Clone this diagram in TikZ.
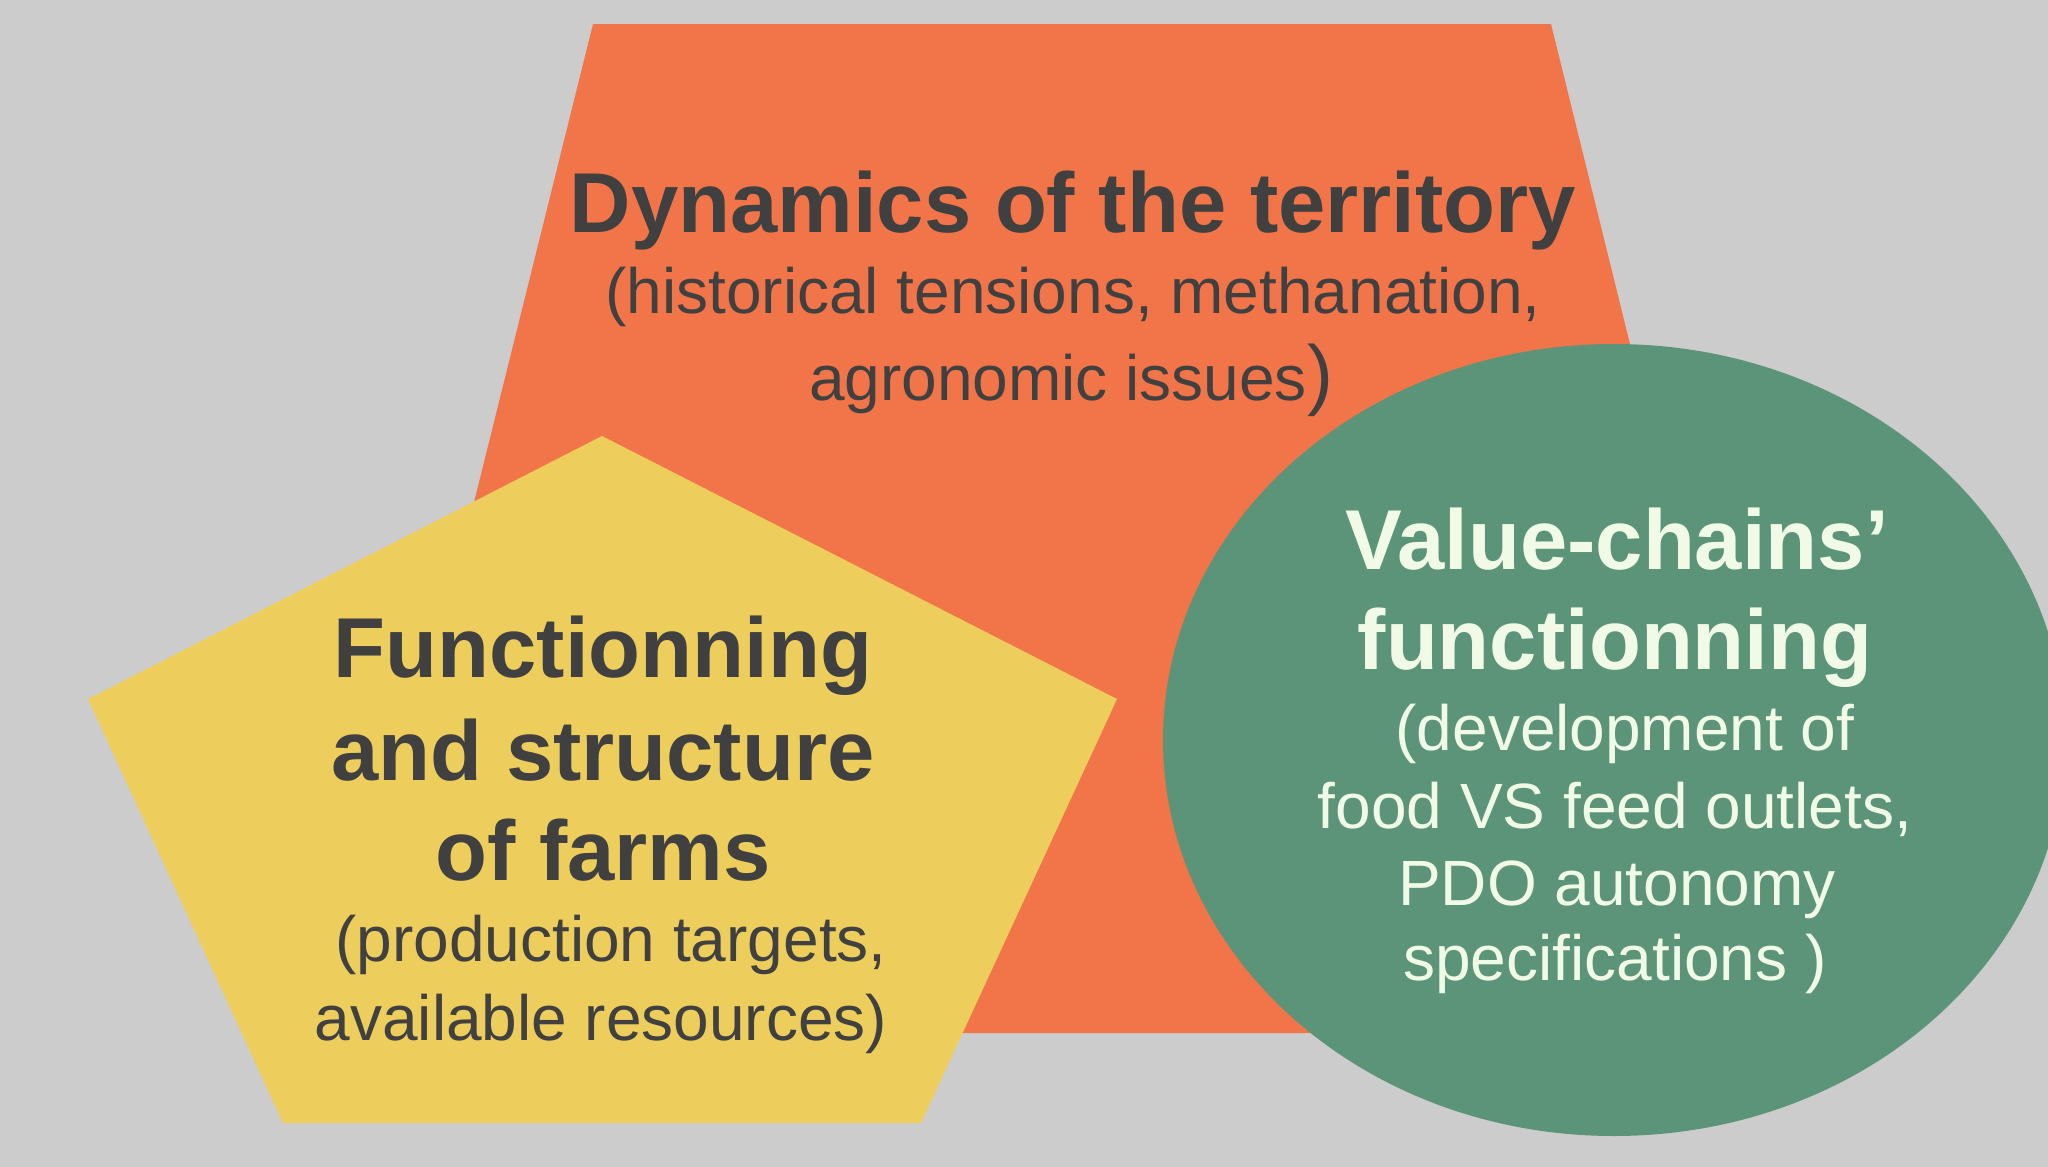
\documentclass[tikz,border=0pt]{standalone}
\usepackage{fontspec}
\setmainfont{Liberation Sans}
\definecolor{bggray}{RGB}{204,204,204}
\definecolor{terrorange}{RGB}{241,117,72}
\definecolor{farmyellow}{RGB}{237,206,92}
\definecolor{chaingreen}{RGB}{92,148,121}
\definecolor{darktext}{RGB}{64,64,64}
\definecolor{lighttext}{RGB}{240,250,230}
\begin{document}
\begin{tikzpicture}[x=1pt,y=-1pt,
  txtline/.style={inner sep=0pt, anchor=base},
  headdark/.style={txtline, text=darktext, font=\bfseries\fontsize{85}{85}\selectfont},
  subdark/.style={txtline, text=darktext, font=\fontsize{64}{64}\selectfont},
  headlight/.style={txtline, text=lighttext, font=\bfseries\fontsize{85}{85}\selectfont},
  sublight/.style={txtline, text=lighttext, font=\fontsize{64}{64}\selectfont}]
\useasboundingbox (0,0) rectangle (2048,1167);
\clip (0,0) rectangle (2048,1167);
\fill[bggray] (0,0) rectangle (2048,1167);
% territory trapezoid
\coordinate (trTL) at (593,24);
\coordinate (trTR) at (1551,24);
\coordinate (trBR) at (1800,1033);
\coordinate (trBL) at (342,1033);
\fill[terrorange] (trTL) -- (trTR) -- (trBR) -- (trBL) -- cycle;
% farms pentagon
\coordinate (pTop) at (602,436);
\coordinate (pR) at (1117,699);
\coordinate (pBR) at (921,1123);
\coordinate (pBL) at (283,1123);
\coordinate (pL) at (88,699);
\fill[farmyellow] (pTop) -- (pR) -- (pBR) -- (pBL) -- (pL) -- cycle;
% value chain ellipse
\coordinate (eC) at (1614,740);
\fill[chaingreen] (eC) ellipse [x radius=451, y radius=396];
% territory text
\node[headdark] (dynA) at (1073,232) {Dynamics of the territory};
\node[subdark] (dynB) at (1073,313) {(historical tensions, methanation,};
\node[subdark] (dynC) at (1071,400) {agronomic issues{\fontsize{78}{78}\selectfont)}};
% farms text
\node[headdark] (farmA) at (603,677) {Functionning};
\node[headdark] (farmB) at (603,780) {and structure};
\node[headdark] (farmC) at (603,880) {of farms};
\node[subdark] (farmD) at (611,961) {(production targets,};
\node[subdark] (farmE) at (601,1040) {available resources)};
% value chain text
\node[headlight] (valA) at (1617,569) {Value-chains’};
\node[headlight] (valB) at (1615,669) {functionning};
\node[sublight] (valC) at (1625,750) {(development of};
\node[sublight] (valD) at (1615,828) {food VS feed outlets,};
\node[sublight] (valE) at (1617,905) {PDO autonomy};
\node[sublight] (valF) at (1615,980) {specifications )};
\end{tikzpicture}
\end{document}
